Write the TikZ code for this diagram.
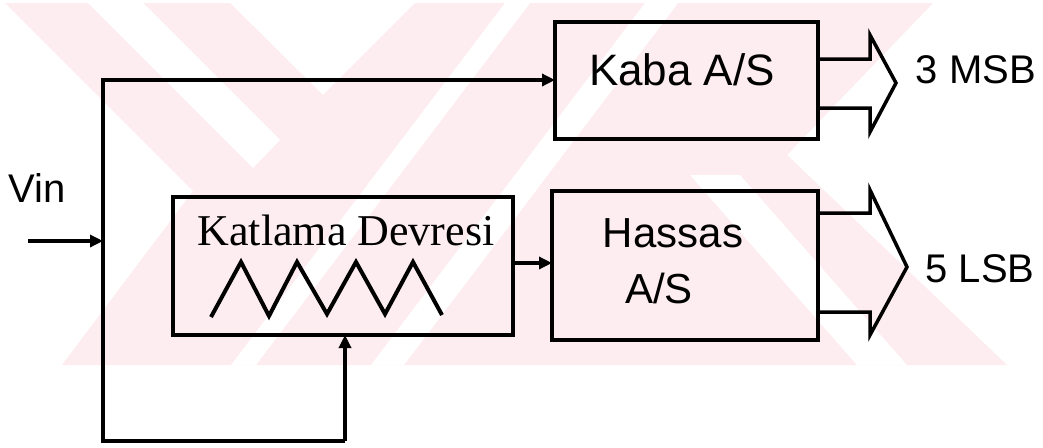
\documentclass[tikz,border=0pt]{standalone}
\usepackage{fontspec}
\setmainfont{Liberation Sans}
\newfontfamily\serifK{Liberation Serif}
\usetikzlibrary{arrows.meta}
\definecolor{wm}{RGB}{253,236,240}
\begin{document}
\begin{tikzpicture}[x=1pt,y=-1pt,
  box/.style={draw,line width=3.5pt,inner sep=0pt,outer sep=0pt},
  conn/.style={line width=3.5pt,-{Triangle[length=13pt,width=12pt]}},
  bus/.style={line width=3.5pt,line join=miter},
  wave/.style={line width=4pt,line join=miter},
  lbl/.style={anchor=base,inner sep=0pt},
  big/.style={font=\fontsize{44}{44}\selectfont},
  mid/.style={font=\fontsize{42}{42}\selectfont},
  sml/.style={font=\fontsize{40}{40}\selectfont}]
\useasboundingbox[fill=white] (0,0) rectangle (1043,447);
% watermark
\fill[wm] (5,3) -- (230,3) -- (323,95) -- (415,3) -- (933,3) -- (787,155)
  -- (1007,365) -- (62,365) -- (193,191) -- cycle;
\fill[white] (88,3) -- (143,3) -- (280,140) -- (253,168) -- cycle;
\fill[white] (505,3) -- (530,3) -- (256,365) -- (231,365) -- cycle;
\fill[white] (645,3) -- (678,3) -- (404,365) -- (371,365) -- cycle;
\fill[white] (690,175) -- (740,175) -- (907,365) -- (857,365) -- cycle;
% boxes
\node[box,minimum width=263pt,minimum height=117pt] (kaba) at (686.5,80.5) {};
\node[box,minimum width=266pt,minimum height=149pt] (hassas) at (685,265.5) {};
\node[box,minimum width=340pt,minimum height=138pt] (katl) at (343,266) {};
% texts
\node[lbl,big] (kabaT) at (682,85) {Kaba A/S};
\node[lbl,mid] (hasT1) at (673,247) {Hassas};
\node[lbl,mid] (hasT2) at (659,303) {A/S};
\node[lbl,big] (katT) at (346,245) {\serifK Katlama Devresi};
\node[lbl,sml] (msb) at (976,83) {3 MSB};
\node[lbl,sml] (lsb) at (980,282) {5 LSB};
\node[lbl,sml] (vin) at (37,202) {Vin};
% triangle wave
\draw[wave] (211,317) -- (241,262) -- (269,316) -- (297,262) -- (327,314)
  -- (356,262) -- (385,314) -- (413,262) -- (442,315);
% connectors
\coordinate (vs) at (28,241);
\coordinate (vj) at (103,241);
\coordinate (tl) at (103,80);
\coordinate (bl) at (103,441);
\coordinate (fb) at (345,441);
\draw[conn] (vs) -- (vj);
\draw[conn] (fb) -- (bl) -- (tl) -- (tl -| kaba.west);
\draw[conn] (fb) -- (fb |- katl.south);
\draw[conn] (katl.east |- 0,263) -- (hassas.west |- 0,263);
% bus arrows
\draw[bus] (kaba.east |- 0,59) -- (870,59) -- (870,35) -- (896,83)
  -- (870,132) -- (870,108) -- (kaba.east |- 0,108);
\draw[bus] (hassas.east |- 0,213) -- (870,213) -- (870,190) -- (907,267)
  -- (870,335) -- (870,312) -- (hassas.east |- 0,312);
\end{tikzpicture}
\end{document}
